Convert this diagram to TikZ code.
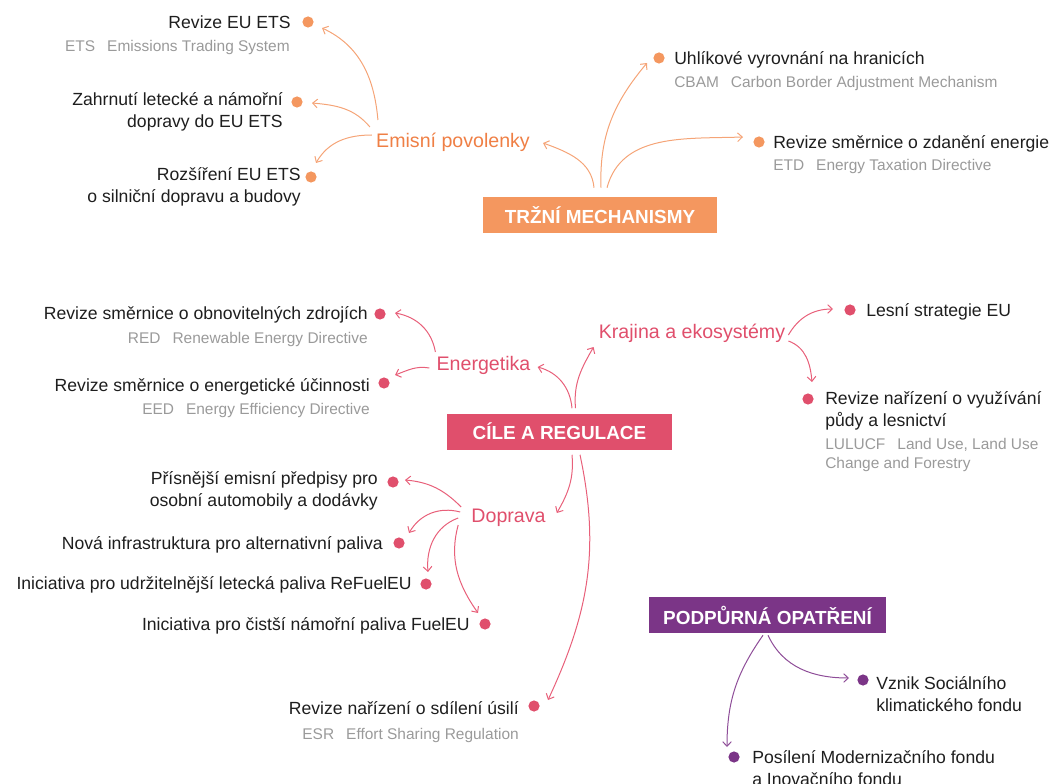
\documentclass[tikz,border=0pt]{standalone}
\usepackage{fontspec}
\setmainfont{Liberation Sans}
\usetikzlibrary{arrows.meta,calc}
\definecolor{orBox}{HTML}{F4975F}
\definecolor{orLine}{HTML}{F5A477}
\definecolor{orText}{HTML}{EF7F45}
\definecolor{pkBox}{HTML}{E04F6C}
\definecolor{pkLine}{HTML}{E8607A}
\definecolor{puBox}{HTML}{7B3587}
\definecolor{puLine}{HTML}{8E4D98}
\definecolor{darkT}{HTML}{1E1E1E}
\definecolor{grayT}{HTML}{9A9A9A}
\tikzset{
  leaf/.style={font=\fontsize{13.2}{16.5}\selectfont, text=darkT, inner sep=0pt,
    execute at begin node={\rule{0pt}{12pt}}},
  leafL/.style={leaf, align=right, anchor=north east},
  leafR/.style={leaf, align=left, anchor=north west},
  subt/.style={font=\fontsize{11.6}{14.3}\selectfont, text=grayT, inner sep=0pt,
    execute at begin node={\rule{0pt}{10pt}}},
  subL/.style={subt, align=right, anchor=north east},
  subR/.style={subt, align=left, anchor=north west},
  bullet/.style={circle, fill=#1, draw=none, inner sep=0pt, minimum size=8.4pt},
  cat/.style={font=\fontsize{14.7}{17}\selectfont, text=#1, inner sep=0pt},
  headbox/.style={fill=#1, text=white, font=\bfseries\fontsize{14.2}{17}\selectfont,
    inner sep=0pt, minimum height=27pt},
  arr/.style={draw=#1, line width=0.75pt, -{Straight Barb[length=3.5pt,width=6.5pt]}},
}
\newcommand{\abbr}[2]{#1\hspace{9pt}#2}
\begin{document}
\begin{tikzpicture}[x=0.75pt,y=-0.75pt]
\useasboundingbox (0,0) rectangle (1050,784);
\clip (0,0) rectangle (1050,784);

% ---------- head boxes ----------
\node[headbox=orBox, minimum width=175.5pt] (tm) at (600,215) {TRŽNÍ MECHANISMY};
\node[headbox=pkBox, minimum width=168.75pt] (cr) at (559.5,431.5) {CÍLE A REGULACE};
\node[headbox=puBox, minimum width=177.75pt] (po) at (767.5,615) {PODPŮRNÁ OPATŘENÍ};

% ---------- categories ----------
\node[cat=orText] (emi) at (453,142) {Emisní povolenky};
\node[cat=pkBox] (ene) at (483.5,365) {Energetika};
\node[cat=pkBox] (kra) at (692,333) {Krajina a ekosystémy};
\node[cat=pkBox] (dop) at (508.5,518) {Doprava};

% ---------- orange leaves ----------
\node[leafL] (ets) at (291,12) {Revize EU ETS};
\node[bullet=orBox] (etsd) at (308,22) {};
\node[subL] (etss) at (290,38) {\abbr{ETS}{Emissions Trading System}};
\node[leafL] (zah) at (283,92) {Zahrnutí letecké a námořní\\dopravy do EU ETS};
\node[bullet=orBox] (zahd) at (297,102) {};
\node[leafL] (roz) at (301,167) {Rozšíření EU ETS\\o silniční dopravu a budovy};
\node[bullet=orBox] (rozd) at (311,177) {};
\node[leafR] (uhl) at (674,48) {Uhlíkové vyrovnání na hranicích};
\node[bullet=orBox] (uhld) at (659,58) {};
\node[subR] (uhls) at (674,74) {\abbr{CBAM}{Carbon Border Adjustment Mechanism}};
\node[leafR] (etd) at (773,132) {Revize směrnice o zdanění energie};
\node[bullet=orBox] (etdd) at (759,142) {};
\node[subR] (etds) at (773,157) {\abbr{ETD}{Energy Taxation Directive}};

% ---------- pink leaves ----------
\node[leafL] (red) at (368,303) {Revize směrnice o obnovitelných zdrojích};
\node[bullet=pkBox] (redd) at (380,314) {};
\node[subL] (reds) at (368,330) {\abbr{RED}{Renewable Energy Directive}};
\node[leafL] (eed) at (370,375) {Revize směrnice o energetické účinnosti};
\node[bullet=pkBox] (eedd) at (384,383) {};
\node[subL] (eeds) at (370,401) {\abbr{EED}{Energy Efficiency Directive}};
\node[leafR] (les) at (866,300) {Lesní strategie EU};
\node[bullet=pkBox] (lesd) at (850,310) {};
\node[leafR] (lul) at (825,391) {Revize nařízení o využívání\\půdy a lesnictví};
\node[bullet=pkBox] (luld) at (808,399) {};
\node[subR] (luls) at (825,438) {\abbr{LULUCF}{Land Use, Land Use}\\Change and Forestry};
\node[leafL] (pri) at (378,471) {Přísnější emisní předpisy pro\\osobní automobily a dodávky};
\node[bullet=pkBox] (prid) at (393,482) {};
\node[leafL] (nov) at (383,533) {Nová infrastruktura pro alternativní paliva};
\node[bullet=pkBox] (novd) at (399,543) {};
\node[leafL] (ref) at (412,573) {Iniciativa pro udržitelnější letecká paliva ReFuelEU};
\node[bullet=pkBox] (refd) at (426,584) {};
\node[leafL] (fue) at (470,614) {Iniciativa pro čistší námořní paliva FuelEU};
\node[bullet=pkBox] (fued) at (485,624) {};
\node[leafL] (esr) at (519,698) {Revize nařízení o sdílení úsilí};
\node[bullet=pkBox] (esrd) at (534,706) {};
\node[subL] (esrs) at (519,726) {\abbr{ESR}{Effort Sharing Regulation}};

% ---------- purple leaves ----------
\node[leafR] (vzn) at (876,676) {Vznik Sociálního\\klimatického fondu};
\node[bullet=puBox] (vznd) at (863,680) {};
\node[leafR] (pos) at (752,750) {Posílení Modernizačního fondu\\a Inovačního fondu};
\node[bullet=puBox] (posd) at (734,757) {};

% ---------- orange connectors ----------
\draw[arr=orLine] ($(tm.north)+(-6,-9)$) to[out=95,in=-20] ($(emi.east)+(13,1)$);
\draw[arr=orLine] ($(tm.north)+(1,-9)$) to[out=92,in=230] ($(uhld)+(-12,5)$);
\draw[arr=orLine] ($(tm.north)+(7,-9)$) to[out=75,in=182] ($(etdd)+(-16,-5)$);
\draw[arr=orLine] ($(emi.west)+(2,-22)$) to[out=95,in=-25] ($(etsd)+(14,6)$);
\draw[arr=orLine] ($(emi.west)+(-6,-15)$) to[out=130,in=-5] ($(zahd)+(15,1)$);
\draw[arr=orLine] ($(emi.west)+(-4,-7)$) to[out=180,in=60] ($(rozd)+(5,-14)$);

% ---------- pink connectors ----------
\draw[arr=pkLine] ($(cr.north)+(12.5,-5)$) to[out=95,in=-15] ($(ene.east)+(7,2)$);
\draw[arr=pkLine] ($(cr.north)+(16,-5)$) to[out=95,in=240] ($(kra.west)+(-5,14)$);
\draw[arr=pkLine] ($(ene.west)+(-1,-13)$) to[out=100,in=-10] ($(redd)+(15,-1)$);
\draw[arr=pkLine] ($(ene.west)+(-7,3)$) to[out=170,in=20] ($(eedd)+(11,-8)$);
\draw[arr=pkLine] ($(kra.east)+(3,2)$) to[out=60,in=180] ($(lesd)+(-17,-1)$);
\draw[arr=pkLine] ($(kra.east)+(3,8)$) to[out=-20,in=95] ($(luld)+(4,-17)$);
\draw[arr=pkLine] ($(cr.south)+(12.5,5)$) to[out=-85,in=60] ($(dop.east)+(11,-5)$);
\draw[arr=pkLine] ($(cr.south)+(20.5,5)$) to[out=-78,in=65] ($(esrd)+(14,-6)$);
\draw[arr=pkLine] ($(dop.west)+(-10,-11)$) to[out=135,in=-5] ($(prid)+(12,-2)$);
\draw[arr=pkLine] ($(dop.west)+(-11,-6)$) to[out=165,in=60] ($(novd)+(10,-10)$);
\draw[arr=pkLine] ($(dop.west)+(-13,0)$) to[out=200,in=95] ($(refd)+(2,-12)$);
\draw[arr=pkLine] ($(dop.west)+(-13,7)$) to[out=-105,in=125] ($(fued)+(-7,-11)$);

% ---------- purple connectors ----------
\draw[arr=puLine] ($(po.south)+(0.5,2)$) to[out=-65,in=180] ($(vznd)+(-14,-2)$);
\draw[arr=puLine] ($(po.south)+(-4.5,2)$) to[out=-125,in=90] ($(posd)+(-7,-10)$);
\end{tikzpicture}
\end{document}
